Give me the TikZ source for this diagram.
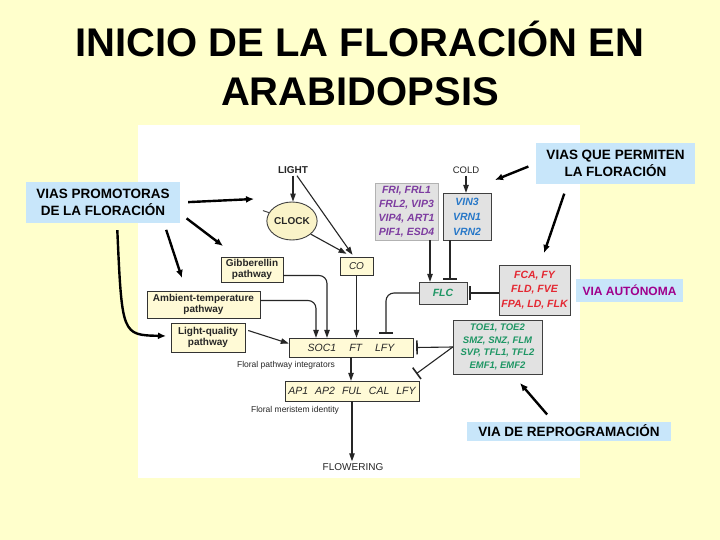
\documentclass[tikz,border=0pt]{standalone}
\usepackage{fontspec}
\setmainfont{Liberation Sans}
\usetikzlibrary{arrows.meta,shapes.geometric}

\definecolor{slidebg}{RGB}{255,255,204}
\definecolor{tagblue}{RGB}{200,230,250}
\definecolor{boxcream}{RGB}{255,250,214}
\definecolor{boxgray}{RGB}{226,226,226}
\definecolor{clockfill}{RGB}{250,243,200}
\definecolor{genepurple}{RGB}{125,60,160}
\definecolor{geneblue}{RGB}{40,120,200}
\definecolor{genegreen}{RGB}{30,150,100}
\definecolor{genered}{RGB}{228,40,50}
\definecolor{tagmagenta}{RGB}{160,0,140}

\begin{document}
\begin{tikzpicture}[x=1pt,y=-1pt]
	% styles
	\tikzstyle{tag} += [fill=tagblue,inner sep=0pt,align=center,font=\fontsize{13.5}{17}\selectfont\bfseries]
	\tikzstyle{pathbox} += [draw=black!80,fill=boxcream,inner sep=0pt,align=center,text=black!85,font=\fontsize{10}{11.5}\selectfont\bfseries]
	\tikzstyle{genebox} += [fill=boxgray,inner sep=0pt,align=center,font=\fontsize{10.5}{14}\selectfont\bfseries\itshape]
	\tikzstyle{word} += [inner sep=2pt,text=black!85,font=\fontsize{10}{12}\selectfont\bfseries]
	\tikzstyle{note} += [inner sep=0pt,text=black!85,font=\fontsize{8.5}{10}\selectfont]
	\tikzstyle{act} += [draw=black!85,line width=1.1pt,-{Triangle[length=8pt,width=5.5pt]}]
	\tikzstyle{rep} += [draw=black!85,line width=1.1pt,-{Bar[width=14pt,line width=1.6pt]}]
	\tikzstyle{hint} += [draw=black,line width=2.4pt,-{Latex[length=8pt,width=7pt]}]
	
	% slide and figure panel
	\fill[slidebg] (0,0) rectangle (720,540);
	\fill[white] (138,125) rectangle (580,478);
	
	% title
	\node[anchor=base,inner sep=0pt,font=\fontsize{40}{48}\selectfont\bfseries] (title) at (360,57) {INICIO DE LA FLORACIÓN EN};
	\node[anchor=base,inner sep=0pt,font=\fontsize{40}{48}\selectfont\bfseries] (title2) at (360,106) {ARABIDOPSIS};
	
	% side tags
	\node[tag,minimum width=154pt,minimum height=41pt] (promo) at (103,202.5) {VIAS PROMOTORAS\\DE LA FLORACIÓN};
	\node[tag,minimum width=159pt,minimum height=41pt] (permit) at (615.5,163.5) {VIAS QUE PERMITEN\\LA FLORACIÓN};
	\node[tag,minimum width=107pt,minimum height=23pt,text=tagmagenta,font=\fontsize{12}{14}\selectfont\bfseries] (auto) at (629.5,290.5) {VIA AUTÓNOMA};
	\node[tag,minimum width=204pt,minimum height=19pt] (reprog) at (569,431) {VIA DE REPROGRAMACIÓN};
	
	% signals
	\node[word] (light) at (293,170) {LIGHT};
	\node[word,font=\fontsize{9.5}{11}\selectfont] (cold) at (466,170) {COLD};
	\node[draw=black!75,line width=0.9pt,fill=clockfill,ellipse,minimum width=50pt,minimum height=38pt,inner sep=0pt,text=black!85,font=\fontsize{10}{12}\selectfont\bfseries] (clock) at (292,221) {CLOCK};
	
	% pathways
	\node[pathbox,minimum width=62pt,minimum height=25pt] (gib) at (252,269.5) {Gibberellin\\pathway};
	\node[pathbox,minimum width=113pt,minimum height=27pt] (amb) at (203.5,304.5) {Ambient-temperature\\pathway};
	\node[pathbox,minimum width=74pt,minimum height=29pt] (lq) at (208,337.5) {Light-quality\\pathway};
	\node[pathbox,minimum width=33pt,minimum height=18pt,font=\fontsize{10}{12}\selectfont\itshape] (co) at (356.5,266) {CO};
	
	% gene boxes
	\node[genebox,draw=black!30,minimum width=63pt,minimum height=57pt,text=genepurple] (fri) at (406.5,211.5) {FRI, FRL1\\FRL2, VIP3\\VIP4, ART1\\PIF1, ESD4};
	\node[genebox,draw=black!75,minimum width=48pt,minimum height=47pt,text=geneblue,font=\fontsize{10.5}{15}\selectfont\bfseries\itshape] (vin) at (467,216.5) {VIN3\\VRN1\\VRN2};
	\node[genebox,draw=black!75,minimum width=48pt,minimum height=22pt,text=genegreen] (flc) at (443,293) {FLC};
	\node[genebox,draw=black!75,minimum width=71pt,minimum height=50pt,text=genered,font=\fontsize{10.5}{14.5}\selectfont\bfseries\itshape] (fca) at (534.5,290) {FCA, FY\\FLD, FVE\\FPA, LD, FLK};
	\node[genebox,draw=black!75,minimum width=89pt,minimum height=54pt,text=genegreen,font=\fontsize{9.5}{12.7}\selectfont\bfseries\itshape] (toe) at (497.5,347) {TOE1, TOE2\\SMZ, SNZ, FLM\\SVP, TFL1, TFL2\\EMF1, EMF2};
	
	% integrators and identity
	\node[pathbox,minimum width=124pt,minimum height=19pt,font=\fontsize{10.5}{12}\selectfont\itshape] (soc) at (351,347.5) {SOC1\hspace{13pt}FT\hspace{13pt}LFY};
	\node[note] (integ) at (286,365) {Floral pathway integrators};
	\node[pathbox,minimum width=134pt,minimum height=20pt,font=\fontsize{10.5}{12}\selectfont\itshape] (ap) at (352,391) {AP1\hspace{7pt}AP2\hspace{7pt}FUL\hspace{7pt}CAL\hspace{7pt}LFY};
	\node[note] (ident) at (295,410) {Floral meristem identity};
	\node[word,font=\fontsize{10}{12}\selectfont] (flower) at (353,467) {FLOWERING};
	
	% connectors
	\draw[act] (light.south) -- (light.south |- clock.north);
	\draw[act] ([xshift=4pt]light.south) -- ([xshift=-4pt,yshift=2pt]co.north);
	\draw[act] (clock.-35) -- ([xshift=-10pt,yshift=3pt]co.north);
	\draw[black!75,line width=0.9pt] (clock.160) -- ++(-6,-2);
	\draw[act] (cold.south) -- (cold.south |- vin.north);
	\draw[act] ([xshift=23.5pt]fri.south) -- ([xshift=-13pt]flc.north);
	\draw[rep] ([xshift=-17pt]vin.south) -- ([xshift=7pt,yshift=2pt]flc.north);
	\draw[rep] (fca.west |- flc.east) -- ([xshift=2pt]flc.east);
	\draw[rep,rounded corners=8pt] (flc.west) -| ([xshift=35pt,yshift=4pt]soc.north);
	\draw[act,rounded corners=8pt] ([yshift=-6pt]gib.east) -| ([xshift=-24pt]soc.north);
	\draw[act,rounded corners=8pt] ([yshift=4pt]amb.east) -| ([xshift=-35pt]soc.north);
	\draw[act] ([xshift=3pt,yshift=7pt]lq.east) -- ([yshift=4pt]soc.west);
	\draw[act] (co.south) -- (co.south |- soc.north);
	\draw[rep] (toe.west) -- ([xshift=3pt]soc.east);
	\draw[rep] (toe.west) -- ([xshift=-3pt,yshift=7pt]ap.north east);
	\draw[act] (soc.south) -- (soc.south |- ap.north);
	\draw[act] (ap.south) -- (ap.south |- flower.north);
	
	% hand-drawn pointers
	\coordinate (tipA) at (254,199);
	\coordinate (tipB) at (223,246);
	\coordinate (tipC) at (182,278);
	\coordinate (tipD) at (166,336);
	\coordinate (tipE) at (495,180);
	\coordinate (tipF) at (544,253);
	\coordinate (tipG) at (520,383);
	\draw[hint,shorten <=8pt] (promo.east) -- (tipA);
	\draw[hint,shorten <=8pt] ([yshift=-11pt]promo.east) -- (tipB);
	\draw[hint,shorten <=7pt] ([xshift=61pt]promo.south) -- (tipC);
	\draw[hint,shorten <=7pt] ([xshift=14pt]promo.south) .. controls (122,335) .. (tipD);
	\draw[hint,shorten <=8pt] (permit.west) -- (tipE);
	\draw[hint,shorten <=10pt] ([xshift=-48pt]permit.south) -- (tipF);
	\draw[hint,shorten <=9pt] ([xshift=-16pt]reprog.north) -- (tipG);
\end{tikzpicture}
\end{document}
